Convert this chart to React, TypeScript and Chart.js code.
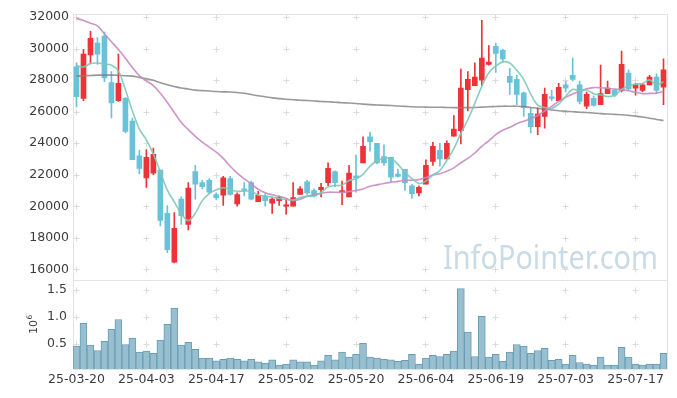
import { useEffect, useRef } from 'react';
import { Chart, registerables } from 'chart.js';

Chart.register(...registerables);

const dates = [
  '25-03-20', '25-03-21', '25-03-24', '25-03-25', '25-03-26', '25-03-27', '25-03-28', '25-03-31', '25-04-01', '25-04-02',
  '25-04-03', '25-04-04', '25-04-07', '25-04-08', '25-04-09', '25-04-10', '25-04-11', '25-04-14', '25-04-15', '25-04-16',
  '25-04-17', '25-04-18', '25-04-21', '25-04-22', '25-04-23', '25-04-24', '25-04-25', '25-04-28', '25-04-29', '25-04-30',
  '25-05-02', '25-05-07', '25-05-08', '25-05-09', '25-05-12', '25-05-13', '25-05-14', '25-05-15', '25-05-16', '25-05-19',
  '25-05-20', '25-05-21', '25-05-22', '25-05-23', '25-05-26', '25-05-27', '25-05-28', '25-05-29', '25-05-30', '25-06-02',
  '25-06-04', '25-06-05', '25-06-09', '25-06-10', '25-06-11', '25-06-12', '25-06-13', '25-06-16', '25-06-17', '25-06-18',
  '25-06-19', '25-06-20', '25-06-23', '25-06-24', '25-06-25', '25-06-26', '25-06-27', '25-06-30', '25-07-01', '25-07-02',
  '25-07-03', '25-07-04', '25-07-07', '25-07-08', '25-07-09', '25-07-10', '25-07-11', '25-07-14', '25-07-15', '25-07-16',
  '25-07-17', '25-07-18', '25-07-21', '25-07-22', '25-07-23',
];

const openPrices = [
  28850, 26850, 29600, 30350, 30800, 27850, 26700, 26850, 25400, 23200,
  21800, 22100, 22300, 19550, 16450, 20450, 18850, 22200, 21500, 21650,
  20750, 20700, 21750, 20150, 21100, 21500, 20300, 20650, 20200, 20350,
  20000, 20000, 20750, 21550, 21000, 21050, 21500, 22200, 20900, 20600,
  21900, 22750, 24400, 24000, 23150, 23100, 22050, 22350, 21300, 20850,
  21400, 22850, 23550, 23000, 24450, 24800, 27400, 27650, 28000, 29000,
  30150, 29900, 28250, 28050, 27200, 25900, 25050, 25700, 26950, 26700,
  27700, 28300, 27700, 26350, 26850, 26450, 27150, 27350, 27350, 28450,
  27500, 27350, 27700, 28200, 27550,
];
const highPrices = [
  29100, 29950, 31100, 30700, 31050, 28550, 29650, 26900, 25600, 23550,
  23600, 23700, 22300, 20050, 19600, 20600, 21500, 22600, 21650, 21750,
  20850, 21900, 21900, 20850, 21500, 21600, 20950, 20800, 20550, 20650,
  20500, 21500, 21250, 21650, 21100, 21450, 22750, 22250, 21600, 22600,
  23250, 24400, 24700, 24000, 23900, 23100, 22350, 22350, 21400, 21300,
  22950, 24050, 24000, 24150, 25750, 28700, 28550, 29100, 31800, 30200,
  30350, 29950, 28750, 28300, 27250, 26250, 26250, 27500, 27350, 27800,
  27950, 29400, 27950, 27250, 27000, 28950, 27950, 27400, 29850, 28650,
  27800, 27750, 28300, 28400, 29350,
];
const lowPrices = [
  26300, 26700, 29050, 29000, 27900, 25600, 26650, 24650, 22950, 22050,
  21200, 22000, 18750, 17050, 16400, 18850, 18500, 20450, 21100, 20800,
  20400, 20050, 20700, 20000, 20650, 20400, 20300, 20000, 19550, 20050,
  19500, 20000, 20750, 20750, 20600, 20600, 21300, 21250, 20100, 20600,
  20900, 22750, 23500, 22700, 22600, 21550, 21850, 21000, 20500, 20650,
  21400, 22600, 22550, 23000, 24450, 23950, 26050, 27650, 27650, 28950,
  28500, 29200, 27100, 26450, 25700, 24650, 24550, 24950, 26700, 26700,
  27250, 27950, 26500, 26200, 26350, 26450, 27150, 26950, 27250, 27350,
  27050, 27250, 27700, 27200, 26450,
];
const closePrices = [
  26950, 29650, 30650, 29650, 28150, 26550, 27800, 24750, 22950, 22400,
  23100, 23300, 19100, 17250, 18600, 19400, 21150, 21400, 21250, 20900,
  20550, 21800, 20750, 20750, 21000, 20450, 20700, 20350, 20450, 20550,
  20100, 20550, 21100, 20850, 20650, 21200, 22400, 21500, 21000, 22100,
  21800, 23800, 24100, 22750, 22750, 21850, 21900, 21500, 20800, 21200,
  22600, 23800, 23000, 24000, 24900, 27500, 28050, 28200, 29400, 29150,
  29700, 29350, 27850, 27100, 26250, 25050, 25850, 27100, 26850, 27550,
  27500, 28050, 26650, 27100, 26400, 27150, 27500, 27050, 29000, 27450,
  27700, 27700, 28200, 27350, 28650,
];

const ma5 = [
  28930, 28840, 29050, 29090, 29020, 28950, 28580, 27390, 26050, 24900,
  24210, 23310, 22180, 21030, 20270, 19530, 19090, 19550, 20360, 20810,
  21050, 21180, 21050, 20950, 20970, 20950, 20720, 20650, 20580, 20490,
  20430, 20410, 20550, 20630, 20650, 20870, 21230, 21310, 21340, 21630,
  21750, 22030, 22550, 22900, 23030, 23040, 22660, 22150, 21760, 21450,
  21600, 21980, 22270, 22920, 23660, 24630, 25490, 26530, 27610, 28470,
  28900, 29160, 29090, 28630, 28040, 27120, 26420, 26270, 26210, 26480,
  26970, 27420, 27330, 27380, 27140, 27070, 26960, 27040, 27420, 27640,
  27750, 27790, 28020, 27690, 27920,
];
const ma20 = [
  31920, 31780, 31610, 31440, 30940, 30440, 29940, 29390, 28800, 28280,
  27960, 27650, 27170, 26590, 25950, 25310, 24860, 24440, 24070, 23750,
  23430, 23040, 22540, 22100, 21740, 21430, 21080, 20860, 20730, 20640,
  20490, 20350, 20450, 20630, 20730, 20820, 20890, 20890, 20880, 20940,
  21000, 21100, 21270, 21360, 21450, 21520, 21580, 21640, 21660, 21690,
  21820, 21980, 22070, 22230, 22440, 22760, 23040, 23380, 23800, 24150,
  24550, 24820, 25010, 25230, 25400, 25560, 25760, 26040, 26340, 26660,
  26910, 27120, 27300, 27460, 27530, 27520, 27490, 27430, 27410, 27330,
  27230, 27140, 27160, 27180, 27300,
];
const ma120 = [
  28260, 28280, 28300, 28320, 28320, 28320, 28310, 28280, 28260, 28180,
  28090, 27990, 27840, 27710, 27600, 27500, 27440, 27370, 27340, 27310,
  27280, 27260, 27250, 27220, 27170, 27090, 27010, 26950, 26880, 26830,
  26790, 26760, 26730, 26710, 26680, 26650, 26630, 26600, 26570, 26550,
  26520, 26480, 26450, 26430, 26410, 26390, 26360, 26340, 26310, 26300,
  26290, 26280, 26280, 26270, 26260, 26260, 26260, 26270, 26290, 26310,
  26330, 26350, 26350, 26350, 26330, 26270, 26210, 26160, 26110, 26060,
  26030, 26000, 25970, 25950, 25920, 25880, 25850, 25830, 25810, 25770,
  25720, 25660, 25590, 25510, 25440,
];

// volume in millions of shares
const volumes = [
  0.46, 0.88, 0.48, 0.38, 0.55, 0.77, 0.95, 0.49, 0.61, 0.35,
  0.37, 0.33, 0.57, 0.86, 1.16, 0.48, 0.53, 0.40, 0.24, 0.24,
  0.19, 0.22, 0.24, 0.22, 0.19, 0.22, 0.17, 0.15, 0.21, 0.11,
  0.13, 0.21, 0.17, 0.17, 0.11, 0.19, 0.29, 0.21, 0.35, 0.26,
  0.31, 0.51, 0.26, 0.24, 0.22, 0.21, 0.18, 0.20, 0.31, 0.13,
  0.24, 0.29, 0.27, 0.31, 0.37, 1.52, 0.72, 0.27, 1.01, 0.26,
  0.31, 0.18, 0.35, 0.49, 0.46, 0.33, 0.38, 0.42, 0.20, 0.22,
  0.13, 0.29, 0.16, 0.13, 0.11, 0.26, 0.11, 0.11, 0.44, 0.26,
  0.13, 0.11, 0.13, 0.13, 0.33,
];

const priceTicks = [16000, 18000, 20000, 22000, 24000, 26000, 28000, 30000, 32000];
const volumeTicks = [0.5, 1.0, 1.5];
const dateTickEvery = 10;

const UP = '#ee3338';
const DOWN = '#6ac2d8';
const FONT = { family: '"DejaVu Sans", sans-serif', size: 12.5 };
const TEXT = '#3c3c3c';

const decorPlugin = {
  id: 'decor',
  beforeDatasetsDraw(chart: any) {
    const ctx = chart.ctx;
    const { left, right, top, bottom } = chart.chartArea;
    const xs = chart.scales.x;
    const ys = chart.scales.y;
    const vs = chart.scales.vol;
    ctx.save();
    // watermark
    ctx.font = '32px "Noto Sans", sans-serif';
    ctx.fillStyle = '#c9dbe6';
    ctx.textBaseline = 'alphabetic';
    const wm = 'InfoPointer.com';
    const w = ctx.measureText(wm).width;
    ctx.save();
    ctx.translate(443, 268.5);
    ctx.scale(215 / w, 1);
    ctx.fillText(wm, 0, 0);
    ctx.restore();

    // grid crosses
    ctx.strokeStyle = '#dcdcdc';
    ctx.lineWidth = 1;
    const xPix: number[] = [];
    for (let i = 0; i < dates.length; i += dateTickEvery) {
      xPix.push(Math.floor(xs.getPixelForValue(i)) + 0.5);
    }
    const yPix: number[] = [];
    priceTicks.forEach((t) => yPix.push(Math.round(ys.getPixelForValue(t)) + 0.5));
    volumeTicks.forEach((t) => yPix.push(Math.round(vs.getPixelForValue(t)) + 0.5));
    ctx.beginPath();
    xPix.forEach((px) => {
      yPix.forEach((py) => {
        ctx.moveTo(px - 3, py);
        ctx.lineTo(px + 3, py);
        ctx.moveTo(px, py - 3);
        ctx.lineTo(px, py + 3);
      });
    });
    ctx.stroke();

    // frame lines
    ctx.strokeStyle = '#e3e3e3';
    ctx.beginPath();
    const sep = Math.round(ys.bottom) + 0.5;
    ctx.moveTo(left, Math.round(top) + 0.5);
    ctx.lineTo(right, Math.round(top) + 0.5);
    ctx.moveTo(Math.round(right) + 0.5, top);
    ctx.lineTo(Math.round(right) + 0.5, bottom);
    ctx.moveTo(Math.round(left) + 0.5, top);
    ctx.lineTo(Math.round(left) + 0.5, bottom);
    ctx.moveTo(left, sep);
    ctx.lineTo(right, sep);
    ctx.moveTo(left, Math.round(bottom) + 0.5);
    ctx.lineTo(right, Math.round(bottom) + 0.5);
    ctx.stroke();
    ctx.restore();
  },
  afterDraw(chart: any) {
    const ctx = chart.ctx;
    ctx.save();
    ctx.translate(33, 325);
    ctx.rotate(-Math.PI / 2);
    ctx.fillStyle = TEXT;
    ctx.textBaseline = 'alphabetic';
    ctx.textAlign = 'left';
    ctx.font = '11px "DejaVu Sans", sans-serif';
    const w10 = ctx.measureText('10').width;
    ctx.fillText('10', -9, 4);
    ctx.font = '7.5px "DejaVu Sans", sans-serif';
    ctx.fillText('6', -9 + w10 + 0.5, -1);
    ctx.restore();
  },
};

export default function App() {
  const canvasRef = useRef<HTMLCanvasElement | null>(null);

  useEffect(() => {
    if (!canvasRef.current) return;
    const colors = closePrices.map((c, i) => (c >= openPrices[i] ? UP : DOWN));
    const bodies = openPrices.map((o, i) => [o, closePrices[i]]);
    const wicks = lowPrices.map((l, i) => [l, highPrices[i]]);

    const chart = new Chart(canvasRef.current, {
      type: 'bar',
      data: {
        labels: dates,
        datasets: [
          {
            type: 'line',
            label: 'MA5',
            data: ma5,
            yAxisID: 'y',
            borderColor: 'rgba(125,200,182,0.9)',
            borderWidth: 1.6,
            pointRadius: 0,
            tension: 0.35,
            order: 0,
          } as any,
          {
            type: 'line',
            label: 'MA20',
            data: ma20,
            yAxisID: 'y',
            borderColor: 'rgba(198,137,196,0.9)',
            borderWidth: 1.6,
            pointRadius: 0,
            tension: 0.35,
            order: 0,
          },
          {
            type: 'line',
            label: 'MA120',
            data: ma120,
            yAxisID: 'y',
            borderColor: 'rgba(128,128,128,0.8)',
            borderWidth: 1.6,
            pointRadius: 0,
            tension: 0.35,
            order: 0,
          },
          {
            type: 'bar',
            label: 'body',
            data: bodies as any,
            yAxisID: 'y',
            backgroundColor: colors,
            borderWidth: 0,
            barThickness: 5,
            minBarLength: 1,
            grouped: false,
            order: 1,
          },
          {
            type: 'bar',
            label: 'wick',
            data: wicks as any,
            yAxisID: 'y',
            backgroundColor: colors,
            borderWidth: 0,
            barThickness: 1,
            grouped: false,
            order: 2,
          },
          {
            type: 'bar',
            label: 'volume',
            data: volumes,
            yAxisID: 'vol',
            backgroundColor: '#98bfd0',
            borderColor: '#6a9db5',
            borderWidth: 1,
            barPercentage: 1,
            categoryPercentage: 1,
            grouped: false,
            order: 3,
          },
        ],
      },
      options: {
        responsive: false,
        animation: false,
        events: [],
        layout: { padding: { left: 0, right: 10, top: 12, bottom: 0 } },
        plugins: { legend: { display: false }, tooltip: { enabled: false } },
        scales: {
          x: {
            type: 'category',
            offset: true,
            grid: { display: false, drawTicks: false },
            border: { display: false },
            ticks: {
              autoSkip: false,
              maxRotation: 0,
              minRotation: 0,
              padding: 3,
              color: TEXT,
              font: FONT,
              callback: (_v: any, idx: number) => (idx % dateTickEvery === 0 ? dates[idx] : ''),
            },
            afterFit: (s: any) => {
              s.height = 29;
            },
          },
          vol: {
            type: 'linear',
            position: 'left',
            stack: 'main',
            stackWeight: 89,
            min: 0.04,
            max: 1.67,
            grid: { display: false, drawTicks: false },
            border: { display: false },
            ticks: {
              padding: 6,
              color: TEXT,
              font: FONT,
              callback: (v: any) => Number(v).toFixed(1),
            },
            afterBuildTicks: (s: any) => {
              s.ticks = volumeTicks.map((v) => ({ value: v }));
            },
            afterFit: (s: any) => {
              s.width = 73;
            },
          },
          y: {
            type: 'linear',
            position: 'left',
            stack: 'main',
            stackWeight: 268,
            min: 15300,
            max: 32230,
            grid: { display: false, drawTicks: false },
            border: { display: false },
            ticks: {
              padding: 4,
              color: TEXT,
              font: FONT,
              callback: (v: any) => String(v),
            },
            afterBuildTicks: (s: any) => {
              s.ticks = priceTicks.map((v) => ({ value: v }));
            },
            afterFit: (s: any) => {
              s.width = 73;
            },
          },
        },
      } as any,
      plugins: [decorPlugin],
    });
    return () => chart.destroy();
  }, []);

  return (
    <div style={{ position: 'absolute', left: 0, top: 0, width: 677, height: 398, background: '#fff' }}>
      <canvas ref={canvasRef} width={677} height={398} style={{ display: 'block' }} />
    </div>
  );
}
